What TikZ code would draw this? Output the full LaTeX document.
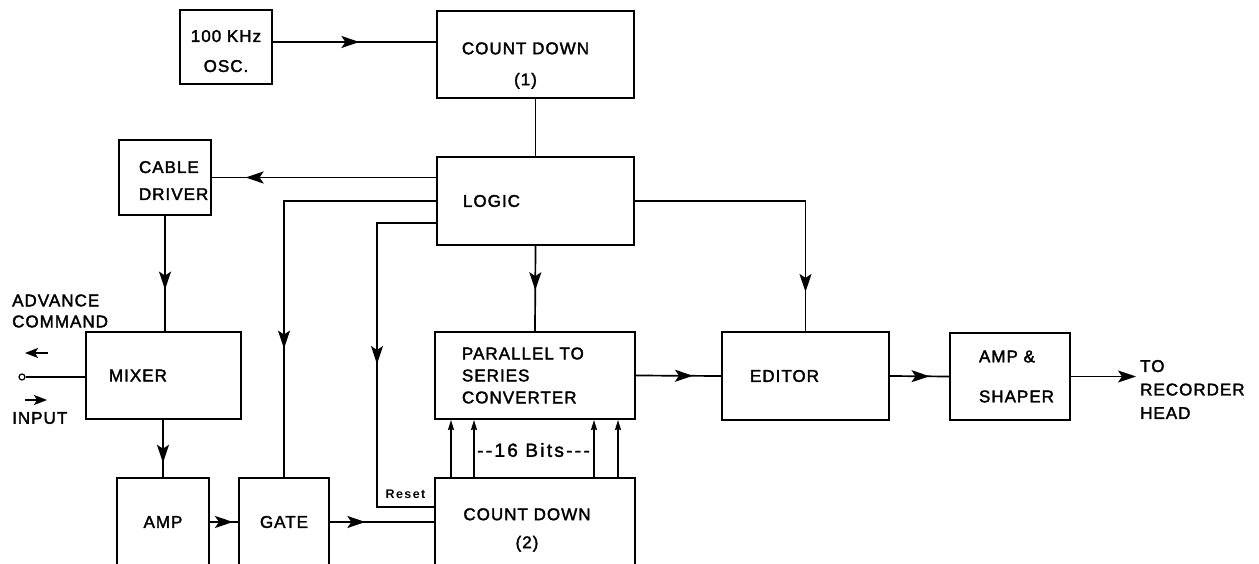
\documentclass[tikz,border=0pt]{standalone}
\usepackage{fontspec}
\setmainfont{Liberation Sans}[LetterSpace=6, FakeBold=2]
\newfontfamily\bitsfont{Liberation Sans}[LetterSpace=12, FakeBold=2, Ligatures=TeXOff]
\newfontfamily\resetfont{Liberation Sans}[LetterSpace=11]
\usetikzlibrary{arrows.meta,decorations.markings}
\hfuzz=50pt
\hyphenpenalty=10000

\tikzset{
  blk/.style={draw, line width=2pt, font=\fontsize{17}{22}\selectfont},
  conn/.style={line width=1.7pt},
  midarr/.style={postaction={decorate}, decoration={markings,
      mark=at position #1 with {\arrow{Stealth[length=18pt,width=12pt,inset=4pt]}}}},
  endarr/.style={-{Stealth[length=18pt,width=12pt,inset=4pt]}},
  bitarr/.style={-{Stealth[length=10pt,width=6pt,inset=1pt]}},
  sidearr/.style={-{Stealth[length=13pt,width=10pt,inset=3pt]}},
  txt/.style={inner sep=0pt, align=left, font=\fontsize{17}{21}\selectfont},
}

\begin{document}
\begin{tikzpicture}[x=1pt, y=-1pt]
\useasboundingbox (0,0) rectangle (1259,564);
\clip (0,0) rectangle (1259,564);

% blocks
\node[blk, minimum width=92pt, minimum height=74pt, align=center] (osc) at (226,47) {\rule{0pt}{20pt}100 KHz\\[8pt]OSC.};
\node[blk, minimum width=197pt, minimum height=87pt, align=center] (cdone) at (535.5,54.5) {\rule{0pt}{34pt}COUNT DOWN\hspace*{20pt}\\[9pt](1)\hspace*{20pt}};
\node[blk, text width=145pt, inner xsep=26pt, minimum height=88pt, align=left] (logic) at (535.5,201) {LOGIC};
\node[blk, text width=52pt, inner xsep=20pt, minimum height=75pt, align=left] (cable) at (165,177.5) {\rule{0pt}{18pt}CABLE\\[5pt]DRIVER};
\node[blk, text width=109pt, inner xsep=23pt, minimum height=87pt, align=left] (mixer) at (163.5,375.5) {MIXER};
\node[blk, text width=146pt, inner xsep=27pt, minimum height=87pt, align=left] (conv) at (535,375.5) {PARALLEL TO\\SERIES\\CONVERTER};
\node[blk, text width=111pt, inner xsep=28pt, minimum height=88pt, align=left] (editor) at (805.5,376) {EDITOR};
\node[blk, text width=62pt, inner xsep=29pt, minimum height=87pt, align=left] (ampsh) at (1010,376.5) {AMP \&\\[18pt]SHAPER};
\node[blk, minimum width=92pt, minimum height=88pt] (amp) at (163,522) {AMP};
\node[blk, minimum width=90pt, minimum height=88pt] (gate) at (284,522) {GATE};
\node[blk, minimum width=200pt, minimum height=104pt, align=center] (cdtwo) at (535,530) {COUNT DOWN\hspace*{16pt}\\[6pt](2)\hspace*{16pt}};

% labels
\node[txt, anchor=west] (advlbl) at (12,311) {ADVANCE\\COMMAND};
\node[txt, anchor=west] (inplbl) at (12,418) {INPUT};
\node[txt, anchor=west, inner xsep=4pt] (tohead) at (1136,389.5) {TO\\[2.5pt]RECORDER\\[2.5pt]HEAD};
\node[inner sep=0pt, font=\resetfont\bfseries\fontsize{12.5}{14}\selectfont] (rstlbl) at (405.5,494) {Reset};
\node[inner sep=0pt, font=\bitsfont\fontsize{19}{22}\selectfont] (bits) at (533.5,450) {--16 Bits---};

% connections
\draw[conn, midarr=.53] ([yshift=5pt]osc.east) -- ([yshift=5pt]osc.east -| cdone.west);
\draw[line width=1.3pt] (cdone.south) -- (logic.north);
\draw[conn, midarr=.85] (logic.west |- cable.east) -- (cable.east);
\draw[conn, midarr=.70] (logic.west) -| (gate.north);
\coordinate (rstbend) at (377,507);
\draw[conn, midarr=.5] ([yshift=-22pt]logic.west) -| (rstbend) -- (rstbend -| cdtwo.west);
\draw[conn, midarr=.52] (logic.south) -- (conv.north);
\draw[conn, midarr=.87] (logic.east) -| (editor.north);
\draw[conn, midarr=.64] (cable.south) -- (cable.south |- mixer.north);
\draw[conn, midarr=.75] (amp.north |- mixer.south) -- (amp.north);
\draw[conn, midarr=.82] (amp.east) -- (gate.west);
\draw[conn, midarr=.34] (gate.east) -- (cdtwo.west |- gate.east);
\draw[conn, midarr=.67] (conv.east) -- (editor.west);
\draw[conn, midarr=.67] (editor.east) -- (ampsh.west);
\draw[conn, endarr] (ampsh.east) -- (ampsh.east -| tohead.west);
\foreach \bx in {451,474,594,618}
  \draw[conn, bitarr] (\bx,0 |- cdtwo.north) -- (\bx,0 |- conv.south);

% input terminal
\node[circle, draw, line width=1.2pt, inner sep=0pt, minimum size=6pt] (term) at (22,377) {};
\draw[conn] (term.east) -- (term.east -| mixer.west);
\coordinate (advfrom) at (48,353);
\coordinate (advto) at (25,353);
\coordinate (inpfrom) at (25,400);
\coordinate (inpto) at (47,400);
\draw[conn, sidearr] (advfrom) -- (advto);
\draw[conn, sidearr] (inpfrom) -- (inpto);
\end{tikzpicture}
\end{document}
